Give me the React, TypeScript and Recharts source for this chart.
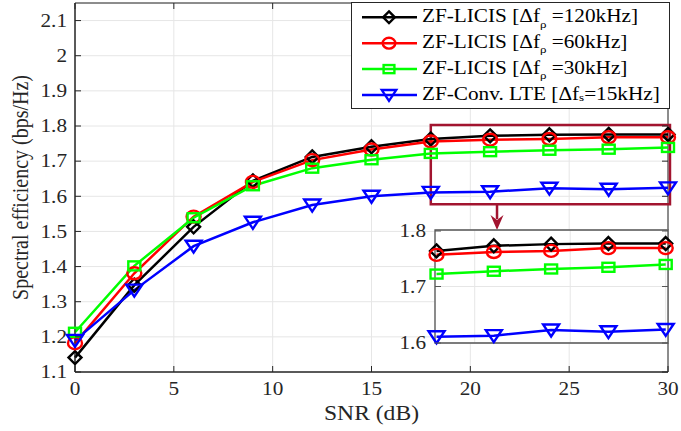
import React from 'react';
import { LineChart, Line, XAxis, YAxis, CartesianGrid, ReferenceArea, ReferenceLine, ReferenceDot, Label } from 'recharts';

const snr = [0, 3, 6, 9, 12, 15, 18, 21, 24, 27, 30];
const licis120 = [1.141, 1.347, 1.513, 1.644, 1.712, 1.741, 1.763, 1.772, 1.775, 1.776, 1.776];
const licis60 = [1.182, 1.381, 1.542, 1.641, 1.703, 1.733, 1.756, 1.761, 1.763, 1.768, 1.768];
const licis30 = [1.213, 1.402, 1.539, 1.63, 1.68, 1.704, 1.722, 1.727, 1.731, 1.734, 1.739];
const convLte = [1.19, 1.333, 1.458, 1.526, 1.575, 1.6, 1.611, 1.613, 1.623, 1.62, 1.624];

const xTicks = [0, 5, 10, 15, 20, 25, 30];
const yTicks = [1.1, 1.2, 1.3, 1.4, 1.5, 1.6, 1.7, 1.8, 1.9, 2, 2.1];
const zoomXTicks = [20, 25, 30];
const zoomYTicks = [1.6, 1.7, 1.8];

const seriesKeys = ['licis120', 'licis60', 'licis30', 'convLte'];
const seriesColors = ['#000000', '#ff0000', '#00ff00', '#0000ff'];
const seriesShapes = ['diamond', 'circle', 'square', 'triangle'];
const legendHead = ['ZF-LICIS [\u0394f', 'ZF-LICIS [\u0394f', 'ZF-LICIS [\u0394f', 'ZF-Conv. LTE [\u0394f'];
const legendSub = ['\u03c1', '\u03c1', '\u03c1', 's'];
const legendTail = [' =120kHz]', ' =60kHz]', ' =30kHz]', '=15kHz]'];

const data = snr.map((s, i) => ({
  snr: s,
  licis120: licis120[i],
  licis60: licis60[i],
  licis30: licis30[i],
  convLte: convLte[i],
}));
const zoomData = data.filter(d => d.snr >= 18);

const FONT = "'Liberation Serif', 'Times New Roman', serif";
const SX = 1.18; // the reference text is stretched sideways
const AXIS = '#262626';
const MAROON = '#A2142F';

// main chart layout
const W = 681;
const H = 431;
const M = { top: 3, right: 13, bottom: 0, left: 0 };
const Y_W = 75;
const X_H = 59;
const PLOT = { left: M.left + Y_W, right: W - M.right, top: M.top, bottom: H - M.bottom - X_H };

// zoomed inset layout
const IN = { left: 395, top: 222, w: 290, h: 140 };
const IM = { top: 8, right: 17, bottom: 19, left: 0 };
const IY_W = 40;
const IPLOT = { left: IY_W, right: IN.w - IM.right, top: IM.top, bottom: IN.h - IM.bottom };

function Marker({ shape, color, cx, cy, s = 1 }: any) {
  const sw = 2.4;
  if (shape === 'diamond') {
    const r = 6.5 * s;
    return <polygon points={`${cx},${cy - r} ${cx + r},${cy} ${cx},${cy + r} ${cx - r},${cy}`} fill="none" stroke={color} strokeWidth={sw} />;
  }
  if (shape === 'circle') {
    return <ellipse cx={cx} cy={cy} rx={7 * s} ry={6 * s} fill="none" stroke={color} strokeWidth={sw} />;
  }
  if (shape === 'square') {
    return <rect x={cx - 6 * s} y={cy - 4.5 * s} width={12 * s} height={9 * s} fill="none" stroke={color} strokeWidth={sw} />;
  }
  return (
    <polygon
      points={`${cx - 8 * s},${cy - 5.5 * s} ${cx + 8 * s},${cy - 5.5 * s} ${cx},${cy + 6.5 * s}`}
      fill="none"
      stroke={color}
      strokeWidth={sw}
      strokeLinejoin="miter"
    />
  );
}

const makeDot = (shape: string, color: string) => (p: any) => (
  <g key={`${shape}-${p.index}`}>
    <Marker shape={shape} color={color} cx={p.cx} cy={p.cy} />
  </g>
);

const makeXTick = (plot: any, showLabel: boolean, stroke: string) => (props: any) => {
  const { x, y, payload } = props;
  return (
    <g>
      <line x1={x} x2={x} y1={plot.bottom} y2={plot.bottom - 6} stroke={stroke} />
      <line x1={x} x2={x} y1={plot.top} y2={plot.top + 6} stroke={stroke} />
      {showLabel && (
        <text transform={`translate(${x},${y}) scale(${SX},1)`} textAnchor="middle" dy="0.71em" fontSize={18} fontFamily={FONT} fill={AXIS}>
          {payload.value}
        </text>
      )}
    </g>
  );
};

const makeYTick = (plot: any, stroke: string) => (props: any) => {
  const { x, y, payload } = props;
  return (
    <g>
      <line x1={plot.left} x2={plot.left + 6} y1={y} y2={y} stroke={stroke} />
      <line x1={plot.right} x2={plot.right - 6} y1={y} y2={y} stroke={stroke} />
      <text transform={`translate(${x},${y}) scale(${SX},1)`} textAnchor="end" dy="0.35em" fontSize={18} fontFamily={FONT} fill={AXIS}>
        {payload.value}
      </text>
    </g>
  );
};

function XTitle({ viewBox }: any) {
  const cx = viewBox.x + viewBox.width / 2;
  return (
    <text transform={`translate(${cx},${viewBox.y + 48}) scale(${SX},1)`} textAnchor="middle" fontSize={20} fontFamily={FONT} fill={AXIS}>
      SNR (dB)
    </text>
  );
}

function YTitle({ viewBox }: any) {
  const cy = viewBox.y + viewBox.height / 2;
  return (
    <text transform={`translate(28,${cy}) scale(${SX},1) rotate(-90)`} textAnchor="middle" fontSize={20} fontFamily={FONT} fill={AXIS}>
      Spectral efficiency (bps/Hz)
    </text>
  );
}

function ArrowHead(p: any) {
  const { cx, cy } = p;
  return <polygon points={`${cx - 6.5},${cy - 15} ${cx},${cy - 10} ${cx + 6.5},${cy - 15} ${cx},${cy}`} fill={MAROON} />;
}

function LegendBox() {
  const rowY = (i: number) => 15.3 + 25.9 * i;
  return (
    <svg width={319} height={108} style={{ position: 'absolute', left: 351, top: 2 }}>
      <rect x={0.5} y={0.5} width={318} height={106} fill="#fff" stroke={AXIS} strokeWidth={1} />
      {seriesKeys.map((k, i) => (
        <g key={k}>
          <line x1={11} x2={66} y1={rowY(i)} y2={rowY(i)} stroke={seriesColors[i]} strokeWidth={2.5} />
          <Marker shape={seriesShapes[i]} color={seriesColors[i]} cx={38} cy={rowY(i)} s={0.9} />
          <text transform={`translate(71,${rowY(i) + 4.7}) scale(${SX},1)`} fontSize={18} fontFamily={FONT} fill="#000">
            <tspan>{legendHead[i]}</tspan>
            <tspan dy={legendSub[i] === 's' ? 1 : 5.5} fontSize={11}>{legendSub[i]}</tspan>
            <tspan dy={legendSub[i] === 's' ? -1 : -5.5}>{legendTail[i]}</tspan>
          </text>
        </g>
      ))}
    </svg>
  );
}

export default function App() {
  return (
    <div style={{ position: 'absolute', left: 0, top: 0, width: W, height: H, background: '#fff' }}>
      <LineChart width={W} height={H} data={data} margin={M}>
        <CartesianGrid stroke="#e6e6e6" strokeWidth={1} />
        <XAxis
          dataKey="snr"
          type="number"
          domain={[0, 30]}
          ticks={xTicks}
          height={X_H}
          tickLine={false}
          tickSize={0}
          tickMargin={10}
          axisLine={{ stroke: AXIS }}
          tick={makeXTick(PLOT, true, AXIS)}
        >
          <Label content={XTitle} />
        </XAxis>
        <YAxis
          type="number"
          domain={[1.1, 2.15]}
          ticks={yTicks}
          width={Y_W}
          tickLine={false}
          tickSize={0}
          tickMargin={8}
          axisLine={{ stroke: AXIS }}
          tick={makeYTick(PLOT, AXIS)}
        >
          <Label content={YTitle} />
        </YAxis>
        <ReferenceArea x1={0} x2={30} y1={1.1} y2={2.15} fill="none" stroke={AXIS} strokeWidth={1} />
        {seriesKeys.map((k, i) => (
          <Line
            key={k}
            dataKey={k}
            stroke={seriesColors[i]}
            strokeWidth={2.5}
            dot={makeDot(seriesShapes[i], seriesColors[i])}
            activeDot={false}
            isAnimationActive={false}
          />
        ))}
        <ReferenceArea x1={18} x2={30.1} y1={1.577} y2={1.803} fill="none" stroke={MAROON} strokeWidth={2.5} ifOverflow="visible" />
        <ReferenceLine segment={[{ x: 21.35, y: 1.577 }, { x: 21.35, y: 1.535 }]} stroke={MAROON} strokeWidth={2.5} />
        <ReferenceDot x={21.35} y={1.504} shape={ArrowHead} />
      </LineChart>

      <div style={{ position: 'absolute', left: IN.left, top: IN.top, width: IN.w, height: IN.h }}>
        <LineChart width={IN.w} height={IN.h} data={zoomData} margin={IM}>
          <CartesianGrid stroke="#e6e6e6" strokeWidth={1} fill="#fff" />
          <XAxis
            dataKey="snr"
            type="number"
            domain={[17.92, 30.12]}
            ticks={zoomXTicks}
            height={0}
            tickLine={false}
            tickSize={0}
            axisLine={false}
            tick={makeXTick(IPLOT, false, '#555')}
          />
          <YAxis
            type="number"
            domain={[1.6, 1.8]}
            ticks={zoomYTicks}
            width={IY_W}
            tickLine={false}
            tickSize={0}
            tickMargin={9}
            axisLine={false}
            tick={makeYTick(IPLOT, '#555')}
          />
          <ReferenceArea x1={17.92} x2={30.12} y1={1.6} y2={1.8} fill="none" stroke="#555" strokeWidth={1.3} />
          {seriesKeys.map((k, i) => (
            <Line
              key={k}
              dataKey={k}
              stroke={seriesColors[i]}
              strokeWidth={2.5}
              dot={makeDot(seriesShapes[i], seriesColors[i])}
              activeDot={false}
              isAnimationActive={false}
            />
          ))}
        </LineChart>
      </div>

      <LegendBox />
    </div>
  );
}
